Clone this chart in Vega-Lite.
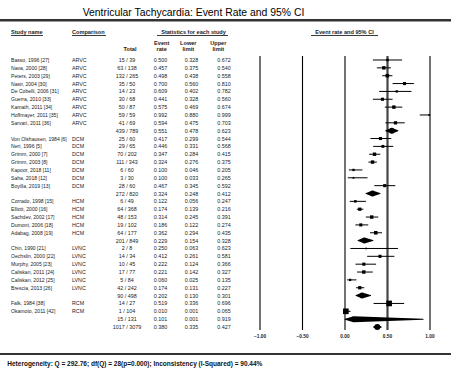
{
  "$schema": "https://vega.github.io/schema/vega-lite/v6.json",
  "width": 451,
  "height": 373,
  "padding": 0,
  "autosize": {"type": "none"},
  "config": {
    "view": {"stroke": null},
    "axis": {"disable": true},
    "legend": {"disable": true},
    "text": {"font": "Liberation Sans"}
  },
  "datasets": {
    "rows": [
      {"kind": "study", "study": "Basso, 1996 [27]", "comparison": "ARVC", "total": "15 / 39", "rate": 0.500, "lower": 0.328, "upper": 0.672, "weight": 6},
      {"kind": "study", "study": "Nava, 2000 [28]", "comparison": "ARVC", "total": "63 / 138", "rate": 0.457, "lower": 0.375, "upper": 0.540, "weight": 11},
      {"kind": "study", "study": "Peters, 2003 [29]", "comparison": "ARVC", "total": "132 / 265", "rate": 0.498, "lower": 0.438, "upper": 0.558, "weight": 12},
      {"kind": "study", "study": "Nasir, 2004 [30]", "comparison": "ARVC", "total": "35 / 50", "rate": 0.700, "lower": 0.560, "upper": 0.810, "weight": 9},
      {"kind": "study", "study": "De Cobelli, 2006 [31]", "comparison": "ARVC", "total": "14 / 23", "rate": 0.609, "lower": 0.402, "upper": 0.782, "weight": 5},
      {"kind": "study", "study": "Guerra, 2010 [33]", "comparison": "ARVC", "total": "30 / 68", "rate": 0.441, "lower": 0.328, "upper": 0.560, "weight": 9},
      {"kind": "study", "study": "Kamath, 2011 [34]", "comparison": "ARVC", "total": "50 / 87", "rate": 0.575, "lower": 0.469, "upper": 0.674, "weight": 11},
      {"kind": "study", "study": "Hoffmayer, 2011 [35]", "comparison": "ARVC", "total": "59 / 59", "rate": 0.992, "lower": 0.880, "upper": 0.999, "weight": 3},
      {"kind": "study", "study": "Sarvari, 2011 [36]", "comparison": "ARVC", "total": "41 / 69", "rate": 0.594, "lower": 0.475, "upper": 0.703, "weight": 10},
      {"kind": "subgroup", "study": "", "comparison": "", "total": "439 / 789", "rate": 0.551, "lower": 0.478, "upper": 0.623},
      {"kind": "study", "study": "Von Olshausen, 1984 [6]", "comparison": "DCM", "total": "25 / 60", "rate": 0.417, "lower": 0.299, "upper": 0.544, "weight": 9},
      {"kind": "study", "study": "Neri, 1996 [5]", "comparison": "DCM", "total": "29 / 65", "rate": 0.446, "lower": 0.331, "upper": 0.568, "weight": 8},
      {"kind": "study", "study": "Grimm, 2000 [7]", "comparison": "DCM", "total": "70 / 202", "rate": 0.347, "lower": 0.284, "upper": 0.415, "weight": 11},
      {"kind": "study", "study": "Grimm, 2003 [8]", "comparison": "DCM", "total": "111 / 343", "rate": 0.324, "lower": 0.276, "upper": 0.375, "weight": 11},
      {"kind": "study", "study": "Kapoor, 2018 [11]", "comparison": "DCM", "total": "6 / 60", "rate": 0.100, "lower": 0.046, "upper": 0.205, "weight": 5},
      {"kind": "study", "study": "Saha, 2018 [12]", "comparison": "DCM", "total": "3 / 30", "rate": 0.100, "lower": 0.033, "upper": 0.265, "weight": 3},
      {"kind": "study", "study": "Boyilla, 2019 [13]", "comparison": "DCM", "total": "28 / 60", "rate": 0.467, "lower": 0.345, "upper": 0.592, "weight": 9},
      {"kind": "subgroup", "study": "", "comparison": "", "total": "272 / 820", "rate": 0.324, "lower": 0.248, "upper": 0.412},
      {"kind": "study", "study": "Corrado, 1998 [15]", "comparison": "HCM", "total": "6 / 49", "rate": 0.122, "lower": 0.056, "upper": 0.247, "weight": 6},
      {"kind": "study", "study": "Elliott, 2000 [16]", "comparison": "HCM", "total": "64 / 368", "rate": 0.174, "lower": 0.139, "upper": 0.216, "weight": 10},
      {"kind": "study", "study": "Sachdev, 2002 [17]", "comparison": "HCM", "total": "48 / 153", "rate": 0.314, "lower": 0.245, "upper": 0.391, "weight": 11},
      {"kind": "study", "study": "Dumont, 2006 [18]", "comparison": "HCM", "total": "19 / 102", "rate": 0.186, "lower": 0.122, "upper": 0.274, "weight": 9},
      {"kind": "study", "study": "Adabag, 2008 [19]", "comparison": "HCM", "total": "64 / 177", "rate": 0.362, "lower": 0.294, "upper": 0.435, "weight": 12},
      {"kind": "subgroup", "study": "", "comparison": "", "total": "201 / 849", "rate": 0.229, "lower": 0.154, "upper": 0.328},
      {"kind": "study", "study": "Chin, 1990 [21]", "comparison": "LVNC", "total": "2 / 8", "rate": 0.250, "lower": 0.063, "upper": 0.623, "weight": 2.5},
      {"kind": "study", "study": "Oechslin, 2000 [22]", "comparison": "LVNC", "total": "14 / 34", "rate": 0.412, "lower": 0.261, "upper": 0.581, "weight": 9},
      {"kind": "study", "study": "Murphy, 2005 [23]", "comparison": "LVNC", "total": "10 / 45", "rate": 0.222, "lower": 0.124, "upper": 0.366, "weight": 9},
      {"kind": "study", "study": "Caliskan, 2011 [24]", "comparison": "LVNC", "total": "17 / 77", "rate": 0.221, "lower": 0.142, "upper": 0.327, "weight": 11},
      {"kind": "study", "study": "Caliskan, 2012 [25]", "comparison": "LVNC", "total": "5 / 84", "rate": 0.060, "lower": 0.025, "upper": 0.135, "weight": 5},
      {"kind": "study", "study": "Brescia, 2013 [26]", "comparison": "LVNC", "total": "42 / 242", "rate": 0.174, "lower": 0.131, "upper": 0.227, "weight": 10},
      {"kind": "subgroup", "study": "", "comparison": "", "total": "90 / 498", "rate": 0.202, "lower": 0.130, "upper": 0.301},
      {"kind": "study", "study": "Falk, 1984 [38]", "comparison": "RCM", "total": "14 / 27", "rate": 0.519, "lower": 0.336, "upper": 0.696, "weight": 30},
      {"kind": "study", "study": "Okamoto, 2011 [42]", "comparison": "RCM", "total": "1 / 104", "rate": 0.010, "lower": 0.001, "upper": 0.065, "weight": 30},
      {"kind": "subgroup", "study": "", "comparison": "", "total": "15 / 131", "rate": 0.101, "lower": 0.001, "upper": 0.919},
      {"kind": "overall", "study": "", "comparison": "", "total": "1017 / 3079", "rate": 0.380, "lower": 0.335, "upper": 0.427}
    ],
    "ticks": [{"tick": -1}, {"tick": -0.5}, {"tick": 0}, {"tick": 0.5}, {"tick": 1}],
    "one": [{}]
  },
  "layer": [
    {
      "data": {"name": "ticks"},
      "mark": {"type": "rule"},
      "encoding": {
        "x": {"field": "tick", "type": "quantitative", "scale": {"domain": [-4.0588, 1.2471], "nice": false, "zero": false}},
        "y": {"datum": 0.491, "scale": {"domain": [-6.640, 40.857], "reverse": true, "nice": false, "zero": false}},
        "y2": {"datum": 35.38},
        "strokeWidth": {"condition": {"test": "datum.tick === 0.5", "value": 2.2}, "value": 1.1},
        "color": {"condition": {"test": "datum.tick === 0.5", "value": "#444444"}, "value": "#000000"}
      }
    },
    {
      "data": {"name": "ticks"},
      "mark": {"type": "text", "fontSize": 4.8, "fontWeight": "bold", "color": "#222222"},
      "encoding": {
        "x": {"field": "tick", "type": "quantitative"},
        "y": {"datum": 36.21},
        "text": {"field": "tick", "type": "quantitative", "format": ".2f"}
      }
    },
    {
      "data": {"name": "rows"},
      "transform": [{"window": [{"op": "row_number", "as": "rn"}]}, {"filter": "datum.kind === 'study'"}],
      "mark": {"type": "rule", "color": "#000000", "strokeWidth": 1},
      "encoding": {
        "x": {"field": "lower", "type": "quantitative"},
        "x2": {"field": "upper"},
        "y": {"field": "rn", "type": "quantitative"}
      }
    },
    {
      "data": {"name": "rows"},
      "transform": [{"window": [{"op": "row_number", "as": "rn"}]}, {"filter": "datum.kind === 'study'"}],
      "mark": {"type": "point", "shape": "square", "filled": true, "color": "#000000", "opacity": 1},
      "encoding": {
        "x": {"field": "rate", "type": "quantitative"},
        "y": {"field": "rn", "type": "quantitative"},
        "size": {"field": "weight", "type": "quantitative", "scale": {"type": "linear", "domain": [0, 30], "range": [0, 32]}, "legend": null}
      }
    },
    {
      "data": {"name": "rows"},
      "transform": [{"window": [{"op": "row_number", "as": "rn"}]}, {"filter": "datum.kind !== 'study'"}, {"fold": ["lower", "rate", "upper"], "as": ["key", "val"]}],
      "mark": {"type": "trail", "color": "#000000"},
      "encoding": {
        "x": {"field": "val", "type": "quantitative"},
        "y": {"field": "rn", "type": "quantitative"},
        "detail": {"field": "rn", "type": "nominal"},
        "size": {"condition": {"test": "datum.key === 'rate'", "value": 6}, "value": 0}
      }
    },
    {
      "data": {"name": "rows"},
      "transform": [{"window": [{"op": "row_number", "as": "rn"}]}],
      "mark": {"type": "text", "fontSize": 5.1, "align": "left", "color": "#222222"},
      "encoding": {"x": {"datum": -3.9294}, "y": {"field": "rn", "type": "quantitative"}, "text": {"field": "study"}}
    },
    {
      "data": {"name": "rows"},
      "transform": [{"window": [{"op": "row_number", "as": "rn"}]}],
      "mark": {"type": "text", "fontSize": 5.3, "align": "left", "color": "#222222"},
      "encoding": {"x": {"datum": -3.2118}, "y": {"field": "rn", "type": "quantitative"}, "text": {"field": "comparison"}}
    },
    {
      "data": {"name": "rows"},
      "transform": [{"window": [{"op": "row_number", "as": "rn"}]}],
      "mark": {"type": "text", "fontSize": 5.4, "align": "center", "color": "#222222"},
      "encoding": {"x": {"datum": -2.5647}, "y": {"field": "rn", "type": "quantitative"}, "text": {"field": "total"}}
    },
    {
      "data": {"name": "rows"},
      "transform": [{"window": [{"op": "row_number", "as": "rn"}]}],
      "mark": {"type": "text", "fontSize": 5.4, "align": "center", "color": "#222222"},
      "encoding": {"x": {"datum": -2.1706}, "y": {"field": "rn", "type": "quantitative"}, "text": {"field": "rate", "type": "quantitative", "format": ".3f"}}
    },
    {
      "data": {"name": "rows"},
      "transform": [{"window": [{"op": "row_number", "as": "rn"}]}],
      "mark": {"type": "text", "fontSize": 5.4, "align": "center", "color": "#222222"},
      "encoding": {"x": {"datum": -1.8059}, "y": {"field": "rn", "type": "quantitative"}, "text": {"field": "lower", "type": "quantitative", "format": ".3f"}}
    },
    {
      "data": {"name": "rows"},
      "transform": [{"window": [{"op": "row_number", "as": "rn"}]}],
      "mark": {"type": "text", "fontSize": 5.4, "align": "center", "color": "#222222"},
      "encoding": {"x": {"datum": -1.4235}, "y": {"field": "rn", "type": "quantitative"}, "text": {"field": "upper", "type": "quantitative", "format": ".3f"}}
    },
    {
      "data": {"name": "one"},
      "mark": {"type": "text", "fontSize": 10.4, "align": "center", "color": "#000000"},
      "encoding": {"x": {"datum": -1.7824}, "y": {"datum": -4.947}, "text": {"value": "Ventricular Tachycardia: Event Rate and 95% CI"}}
    },
    {
      "data": {"name": "one"},
      "mark": {"type": "rule", "color": "#333333", "strokeWidth": 2.6},
      "encoding": {"x": {"datum": -4.0588}, "x2": {"datum": 1.2471}, "y": {"datum": -4.055}}
    },
    {
      "data": {"name": "one"},
      "mark": {"type": "rule", "color": "#333333", "strokeWidth": 2},
      "encoding": {"x": {"datum": -4.0588}, "x2": {"datum": 1.2471}, "y": {"datum": 38.438}}
    },
    {
      "data": {"name": "one"},
      "mark": {"type": "text", "fontSize": 5.6, "fontWeight": "bold", "align": "left", "color": "#222222"},
      "encoding": {"x": {"datum": -3.9294}, "y": {"datum": -2.527}, "text": {"value": "Study name"}}
    },
    {
      "data": {"name": "one"},
      "mark": {"type": "text", "fontSize": 5.6, "fontWeight": "bold", "align": "left", "color": "#222222"},
      "encoding": {"x": {"datum": -3.2118}, "y": {"datum": -2.527}, "text": {"value": "Comparison"}}
    },
    {
      "data": {"name": "one"},
      "mark": {"type": "text", "fontSize": 5.6, "fontWeight": "bold", "align": "center", "color": "#222222"},
      "encoding": {"x": {"datum": -1.7824}, "y": {"datum": -2.527}, "text": {"value": "Statistics for each study"}}
    },
    {
      "data": {"name": "one"},
      "mark": {"type": "text", "fontSize": 5.6, "fontWeight": "bold", "align": "center", "color": "#222222"},
      "encoding": {"x": {"datum": -0.0059}, "y": {"datum": -2.527}, "text": {"value": "Event rate and 95% CI"}}
    },
    {
      "data": {"name": "one"},
      "mark": {"type": "rule", "color": "#222222", "strokeWidth": 0.9},
      "encoding": {"x": {"datum": -3.9294}, "x2": {"datum": -3.5529}, "y": {"datum": -2.12}}
    },
    {
      "data": {"name": "one"},
      "mark": {"type": "rule", "color": "#222222", "strokeWidth": 0.9},
      "encoding": {"x": {"datum": -3.2118}, "x2": {"datum": -2.8118}, "y": {"datum": -2.12}}
    },
    {
      "data": {"name": "one"},
      "mark": {"type": "rule", "color": "#222222", "strokeWidth": 0.9},
      "encoding": {"x": {"datum": -2.2118}, "x2": {"datum": -1.3765}, "y": {"datum": -2.12}}
    },
    {
      "data": {"name": "one"},
      "mark": {"type": "rule", "color": "#222222", "strokeWidth": 0.9},
      "encoding": {"x": {"datum": -0.4}, "x2": {"datum": 0.3882}, "y": {"datum": -2.12}}
    },
    {
      "data": {"name": "one"},
      "mark": {"type": "text", "fontSize": 5.6, "fontWeight": "bold", "align": "center", "color": "#222222"},
      "encoding": {"x": {"datum": -2.1565}, "y": {"datum": -1.203}, "text": {"value": "Event"}}
    },
    {
      "data": {"name": "one"},
      "mark": {"type": "text", "fontSize": 5.6, "fontWeight": "bold", "align": "center", "color": "#222222"},
      "encoding": {"x": {"datum": -1.8435}, "y": {"datum": -1.203}, "text": {"value": "Lower"}}
    },
    {
      "data": {"name": "one"},
      "mark": {"type": "text", "fontSize": 5.6, "fontWeight": "bold", "align": "center", "color": "#222222"},
      "encoding": {"x": {"datum": -1.4906}, "y": {"datum": -1.203}, "text": {"value": "Upper"}}
    },
    {
      "data": {"name": "one"},
      "mark": {"type": "text", "fontSize": 5.6, "fontWeight": "bold", "align": "center", "color": "#222222"},
      "encoding": {"x": {"datum": -2.5294}, "y": {"datum": -0.401}, "text": {"value": "Total"}}
    },
    {
      "data": {"name": "one"},
      "mark": {"type": "text", "fontSize": 5.6, "fontWeight": "bold", "align": "center", "color": "#222222"},
      "encoding": {"x": {"datum": -2.1565}, "y": {"datum": -0.401}, "text": {"value": "rate"}}
    },
    {
      "data": {"name": "one"},
      "mark": {"type": "text", "fontSize": 5.6, "fontWeight": "bold", "align": "center", "color": "#222222"},
      "encoding": {"x": {"datum": -1.8435}, "y": {"datum": -0.401}, "text": {"value": "limit"}}
    },
    {
      "data": {"name": "one"},
      "mark": {"type": "text", "fontSize": 5.6, "fontWeight": "bold", "align": "center", "color": "#222222"},
      "encoding": {"x": {"datum": -1.4906}, "y": {"datum": -0.401}, "text": {"value": "limit"}}
    },
    {
      "data": {"name": "one"},
      "mark": {"type": "text", "fontSize": 6.5, "fontWeight": "bold", "align": "left", "color": "#111111"},
      "encoding": {"x": {"datum": -3.9729}, "y": {"datum": 39.75}, "text": {"value": "Heterogeneity: Q = 292.76; df(Q) = 28(p=0.000); Inconsistency (I-Squared) = 90.44%"}}
    }
  ]
}
